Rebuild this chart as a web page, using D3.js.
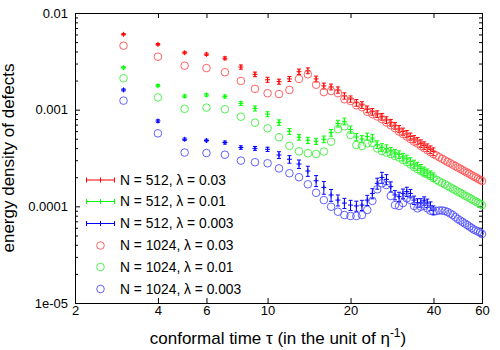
<!DOCTYPE html>
<html lang="en">
<head>
  <meta charset="utf-8">
  <title>energy density of defects</title>
  <script src="https://d3js.org/d3.v7.min.js"></script>
  <style>
    body { margin: 0; background: #fff; }
    #chart text { font-family: "Liberation Sans", Arial, sans-serif; fill: #000; }
    .axis path { display: none; }
    .axis line { stroke: #000; stroke-width: 1; }
    .axis text { font-size: 13px; }
  </style>
</head>
<body>
  <div id="chart"></div>

  <script type="text/javascript">
    "use strict"

    // conformal time for the two runs
    var tau512 = [3,4,5,6,7,8,9,10,11,12,13,14,15,16,17,18,19,20,21,22,23,24,25,26,27,28,29,30,
                  31,32,33,34,35,36,37,38,39,40];
    var tau1024 = [3,4,5,6,7,8,9,10,11,12,13,14,15,16,17,18,19,20,21,22,23,24,25,26,27,28,29,30,
                   31,32,33,34,35,36,37,38,39,40,41,42,43,44,45,46,47,48,49,50,51,52,53,54,55,56,
                   57,58,59,60];

    // N = 512 (with errorbars)
    var red512 = [0.00602,0.00474,0.00388,0.00374,0.00340,0.00276,0.00232,0.00204,0.00195,0.00208,
                  0.00247,0.00253,0.00208,0.00176,0.00172,0.00160,0.00139,0.00129,0.00118,0.00112,
                  0.00101,0.000953,0.000902,0.000846,0.000782,0.000733,0.000683,0.000631,0.000594,0.000560,
                  0.000528,0.000497,0.000474,0.000447,0.000426,0.000406,0.000387,0.000369];
    var green512 = [0.00272,0.00177,0.00138,0.00142,0.00137,0.00116,0.00103,0.000898,0.000737,0.000597,
                    0.000519,0.000482,0.000471,0.000494,0.000578,0.000719,0.000758,0.000624,0.000522,0.000497,
                    0.000528,0.000509,0.000436,0.000408,0.000397,0.000374,0.000356,0.000344,0.000324,0.000309,
                    0.000291,0.000274,0.000261,0.000246,0.000232,0.000221,0.000211,0.000201];
    var blue512 = [0.00160,0.000763,0.000494,0.000480,0.000457,0.000406,0.000398,0.000389,0.000340,0.000307,
                   0.000274,0.000232,0.000184,0.000157,0.000131,0.000116,0.000108,0.000103,0.000101,0.000103,
                   0.000116,0.000136,0.000173,0.000199,0.000190,0.000160,0.000131,0.000126,0.000136,0.000142,
                   0.000136,0.000116,0.000109,0.000109,0.000114,0.000108,0.000101,0.0000917];

    // relative errors of the N = 512 runs
    var redErr = [0.02,0.02,0.025,0.03,0.035,0.05,0.055,0.06,0.06,0.06,0.065,0.07,0.07,0.07,0.07,0.075,
                  0.075,0.075,0.08,0.08,0.08,0.08,0.08,0.08,0.08,0.08,0.08,0.085,0.085,0.085,0.085,0.085,
                  0.085,0.09,0.09,0.09,0.09,0.09];
    var greenErr = [0.025,0.025,0.03,0.03,0.035,0.05,0.06,0.06,0.065,0.07,0.07,0.075,0.075,0.08,0.08,0.08,
                    0.08,0.085,0.085,0.085,0.085,0.09,0.09,0.09,0.09,0.09,0.09,0.09,0.09,0.095,0.095,0.095,
                    0.095,0.1,0.1,0.1,0.1,0.1];
    var blueErr = [0.025,0.03,0.03,0.03,0.035,0.04,0.045,0.05,0.08,0.09,0.1,0.12,0.13,0.15,0.14,0.13,
                   0.12,0.12,0.12,0.12,0.12,0.12,0.13,0.13,0.12,0.12,0.11,0.11,0.11,0.11,0.1,0.1,
                   0.1,0.1,0.1,0.1,0.1,0.1];

    // N = 1024 (circles)
    var red1024 = [0.00459,0.00353,0.00285,0.00269,0.00244,0.00198,0.00164,0.00148,0.00145,0.00160,
                   0.00208,0.00232,0.00181,0.00152,0.00156,0.00148,0.00128,0.00123,0.00111,0.00106,
                   0.000951,0.000898,0.000850,0.000797,0.000737,0.000690,0.000643,0.000594,0.000560,0.000528,
                   0.000497,0.000468,0.000447,0.000421,0.000401,0.000382,0.000365,0.000348,0.000335,0.000322,
                   0.000310,0.000299,0.000289,0.000279,0.000270,0.000261,0.000253,0.000245,0.000237,0.000230,
                   0.000223,0.000217,0.000210,0.000204,0.000199,0.000193,0.000188,0.000183];
    var green1024 = [0.00211,0.00134,0.00102,0.00105,0.00101,0.000846,0.000733,0.000642,0.000518,0.000423,
                     0.000371,0.000354,0.000348,0.000369,0.000466,0.000628,0.000673,0.000547,0.000431,0.000421,
                     0.000447,0.000452,0.000397,0.000374,0.000360,0.000348,0.000332,0.000320,0.000302,0.000288,
                     0.000271,0.000255,0.000243,0.000232,0.000221,0.000214,0.000206,0.000196,0.000188,0.000181,
                     0.000175,0.000169,0.000163,0.000157,0.000152,0.000147,0.000142,0.000138,0.000134,0.000129,
                     0.000126,0.000122,0.000119,0.000115,0.000112,0.000109,0.000106,0.000103];
    var blue1024 = [0.00124,0.000569,0.000360,0.000356,0.000342,0.000297,0.000286,0.000279,0.000247,0.000220,
                    0.000200,0.000169,0.000138,0.000116,0.0000991,0.0000880,0.0000813,0.0000794,0.0000794,0.0000813,
                    0.0000917,0.000114,0.000150,0.000173,0.000166,0.000128,0.000103,0.000101,0.000108,0.000121,
                    0.000116,0.000101,0.0000954,0.0000991,0.000101,0.0000954,0.0000902,0.0000880,0.0000895,0.0000906,
                    0.0000906,0.0000895,0.0000874,0.0000843,0.0000813,0.0000776,0.0000740,0.0000714,0.0000689,0.0000665,
                    0.0000641,0.0000619,0.0000597,0.0000576,0.0000563,0.0000549,0.0000536,0.0000517];

    var xTicks = [2, 4, 6, 10, 20, 40, 60];
    var yTicks = [1e-2, 1e-3, 1e-4, 1e-5];
    var yTickLabels = ["0.01", "0.001", "0.0001", "1e-05"];

    var series512 = [
      {label: "N = 512, \u03bb = 0.03",  color: "#ff0000", v: red512,   e: redErr},
      {label: "N = 512, \u03bb = 0.01",  color: "#00ff00", v: green512, e: greenErr},
      {label: "N = 512, \u03bb = 0.003", color: "#0000ff", v: blue512,  e: blueErr}
    ];
    var series1024 = [
      {label: "N = 1024, \u03bb = 0.03",  color: "#ff5050", v: red1024},
      {label: "N = 1024, \u03bb = 0.01",  color: "#40ee40", v: green1024},
      {label: "N = 1024, \u03bb = 0.003", color: "#5050ff", v: blue1024}
    ];

    var W = 500, H = 350;
    var margin = {top: 13, right: 18, bottom: 47, left: 75},
        larguraVis = W - margin.left - margin.right,
        alturaVis = H - margin.top - margin.bottom;

    var svg = d3.select('#chart').append('svg')
        .attr('width', W).attr('height', H);
    var g = svg.append('g')
        .attr('transform', 'translate(' + margin.left + ',' + margin.top + ')');

    var x = d3.scaleLog().domain([2, 60]).range([0, larguraVis]);
    var y = d3.scaleLog().domain([1e-5, 1e-2]).range([alturaVis, 0]);

    // minor y ticks
    var yMinor = [];
    [1e-5, 1e-4, 1e-3].forEach(function(d) {
      for (var k = 2; k < 10; k++) yMinor.push(k * d);
    });

    // axes, ticks pointing inwards on all four sides
    g.append('g').attr('class', 'axis')
      .attr('transform', 'translate(0,' + alturaVis + ')')
      .call(d3.axisBottom(x).tickValues(xTicks).tickSizeInner(-5).tickSizeOuter(0)
        .tickPadding(3).tickFormat(d3.format('d')));
    g.append('g').attr('class', 'axis')
      .call(d3.axisTop(x).tickValues(xTicks).tickSizeInner(-5).tickSizeOuter(0).tickFormat(''));
    g.append('g').attr('class', 'axis')
      .call(d3.axisLeft(y).tickValues(yTicks).tickSizeInner(-5).tickSizeOuter(0)
        .tickPadding(7).tickFormat(function(d, i) { return yTickLabels[i]; }));
    g.append('g').attr('class', 'axis')
      .call(d3.axisLeft(y).tickValues(yMinor).tickSizeInner(-3).tickSizeOuter(0).tickFormat(''));
    g.append('g').attr('class', 'axis')
      .attr('transform', 'translate(' + larguraVis + ',0)')
      .call(d3.axisRight(y).tickValues(yTicks).tickSizeInner(-5).tickSizeOuter(0).tickFormat(''));
    g.append('g').attr('class', 'axis')
      .attr('transform', 'translate(' + larguraVis + ',0)')
      .call(d3.axisRight(y).tickValues(yMinor).tickSizeInner(-3).tickSizeOuter(0).tickFormat(''));

    g.append('rect')
      .attr('width', larguraVis).attr('height', alturaVis)
      .attr('fill', 'none').attr('stroke', '#000').attr('stroke-width', 1)
      .attr('shape-rendering', 'crispEdges');

    // N = 512: errorbars with a + point
    series512.forEach(function(s) {
      var pts = tau512.map(function(t, i) { return {t: t, v: s.v[i], e: s.e[i]}; });
      var gs = g.append('g').attr('stroke', s.color).attr('stroke-width', 1).attr('fill', 'none');
      var p = gs.selectAll('g').data(pts).enter().append('g');
      p.append('line')
        .attr('x1', d => x(d.t)).attr('x2', d => x(d.t))
        .attr('y1', d => y(d.v * (1 + d.e))).attr('y2', d => y(d.v * (1 - d.e)));
      p.append('line')
        .attr('x1', d => x(d.t) - 2).attr('x2', d => x(d.t) + 2)
        .attr('y1', d => y(d.v * (1 + d.e))).attr('y2', d => y(d.v * (1 + d.e)));
      p.append('line')
        .attr('x1', d => x(d.t) - 2).attr('x2', d => x(d.t) + 2)
        .attr('y1', d => y(d.v * (1 - d.e))).attr('y2', d => y(d.v * (1 - d.e)));
      p.append('path')
        .attr('d', d => 'M' + (x(d.t) - 2.5) + ',' + y(d.v) + 'h5M' + x(d.t) + ',' + (y(d.v) - 2.5) + 'v5');
    });

    // N = 1024: open circles
    series1024.forEach(function(s) {
      g.append('g').selectAll('circle')
        .data(tau1024.map(function(t, i) { return {t: t, v: s.v[i]}; }))
        .enter().append('circle')
          .attr('cx', d => x(d.t))
          .attr('cy', d => y(d.v))
          .attr('r', 3.8)
          .attr('fill', 'none')
          .attr('stroke', s.color)
          .attr('stroke-width', 0.9);
    });

    // legend
    var leg = svg.append('g');
    var rowY = [180, 201.5, 223.5, 245.5, 267, 289];
    series512.forEach(function(s, i) {
      var r = leg.append('g').attr('transform', 'translate(0,' + rowY[i] + ')')
        .attr('stroke', s.color).attr('stroke-width', 1);
      r.append('line').attr('x1', 86.5).attr('x2', 114.5).attr('y1', 0).attr('y2', 0);
      r.append('line').attr('x1', 86.5).attr('x2', 86.5).attr('y1', -2.5).attr('y2', 2.5);
      r.append('line').attr('x1', 114.5).attr('x2', 114.5).attr('y1', -2.5).attr('y2', 2.5);
      r.append('line').attr('x1', 100.5).attr('x2', 100.5).attr('y1', -2.5).attr('y2', 2.5);
      leg.append('text').attr('x', 120).attr('y', rowY[i]).attr('dy', '0.35em')
        .style('font-size', '13.8px').text(s.label);
    });
    series1024.forEach(function(s, i) {
      var yy = rowY[i + 3];
      leg.append('circle').attr('cx', 100.5).attr('cy', yy).attr('r', 3.8)
        .attr('fill', 'none').attr('stroke', s.color).attr('stroke-width', 0.9);
      leg.append('text').attr('x', 120).attr('y', yy).attr('dy', '0.35em')
        .style('font-size', '13.8px').text(s.label);
    });

    // axis titles
    var xt = svg.append('text')
      .attr('x', 278).attr('y', 344)
      .attr('text-anchor', 'middle')
      .style('font-size', '17px');
    xt.append('tspan').text('conformal time \u03c4 (in the unit of \u03b7');
    xt.append('tspan').attr('dy', '-7').style('font-size', '12px').text('-1');
    xt.append('tspan').attr('dy', '7').text(')');

    svg.append('text')
      .attr('transform', 'translate(14,158) rotate(-90)')
      .attr('text-anchor', 'middle')
      .style('font-size', '17px')
      .text('energy density of defects');
  </script>
</body>
</html>
